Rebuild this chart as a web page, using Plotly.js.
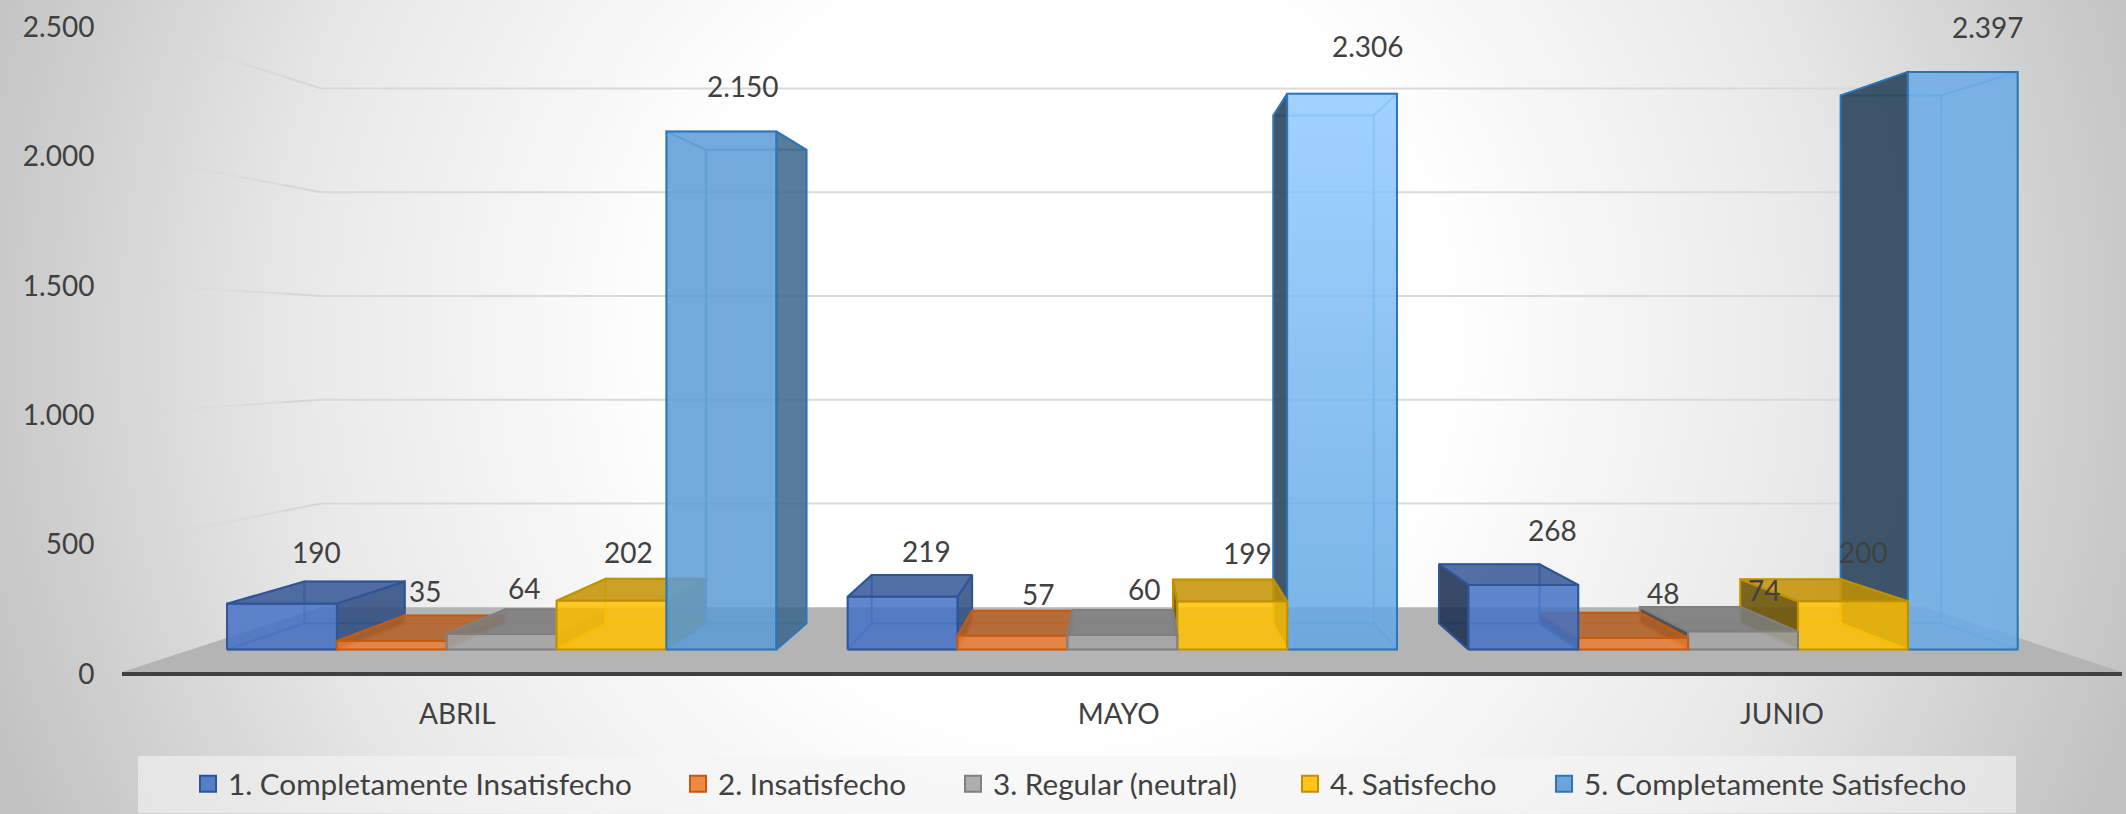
<!DOCTYPE html>
<html>
<head>
<meta charset="utf-8">
<script src="https://cdn.plot.ly/plotly-3.0.1.min.js"></script>
<style>
html,body{margin:0;padding:0;width:2126px;height:814px;overflow:hidden;
background:radial-gradient(ellipse 1130px 1150px at 1060px 340px,#ffffff 0%,#ffffff 34%,#e8e8e8 68%,#c2c2c2 100%);}
#chart{width:2126px;height:814px;}
</style>
</head>
<body>
<div id="chart"></div>
<script>
// ---- data ----
const categories = ["ABRIL", "MAYO", "JUNIO"];
const seriesNames = ["1. Completamente Insatisfecho", "2. Insatisfecho", "3. Regular (neutral)", "4. Satisfecho", "5. Completamente Satisfecho"];
const s1Values = [190, 219, 268];
const s2Values = [35, 57, 48];
const s3Values = [64, 60, 74];
const s4Values = [202, 199, 200];
const s5Values = [2150, 2306, 2397];
const yTickVals = [0, 500, 1000, 1500, 2000, 2500];
const yTickText = ["0", "500", "1.000", "1.500", "2.000", "2.500"];

// ---- styling ----
const seriesValues = [s1Values, s2Values, s3Values, s4Values, s5Values];
const baseRgb = [[68,114,196],[237,125,49],[165,165,165],[255,192,0],[91,155,213]];
const edgeRgb = [[47,85,151],[197,90,17],[127,127,127],[191,144,0],[46,117,182]];
const labelShiftX = [[-38,-30,-31,-27.5,-13],[5,16,21,24.5,44],[63,73,74,73,97.5]];
const labelShiftY = [[29,25,21,26.5,63.6],[24,17,21,26,69],[34,20,17,27,68]];
const categoryTickPos = [0.503, 1.495, 2.49];
const FONT = "Lato, Carlito, sans-serif";
const TEXT = "#404040";

// ---- projection, in axis units ----
const VX = 1.5075, VV = 1262.8;       // vanishing point
const S_FRONT = 0.931, S_BACK = 0.851, S_WALL = 0.802;
const CLUSTER = 0.885, BAR = CLUSTER / 5;
const proj = (x, v, s) => [VX + (x - VX) * s, VV + (v - VV) * s];
const rgba = (c, f, a) => `rgba(${c.map(k => Math.round(k * f)).join(",")},${a})`;

const traces = [];
function poly(points, fill, line, width, extra) {
  const pts = points.concat([points[0]]);
  traces.push(Object.assign({
    type: "scatter", mode: "lines", x: pts.map(p => p[0]), y: pts.map(p => p[1]),
    fill: fill ? "toself" : "none", fillcolor: fill || "rgba(0,0,0,0)",
    line: {color: line || "rgba(0,0,0,0)", width: width || 0},
    hoverinfo: "skip", showlegend: false
  }, extra || {}));
}
function polyline(points, color, width) {
  traces.push({type: "scatter", mode: "lines", x: points.map(p => p[0]), y: points.map(p => p[1]),
    line: {color, width}, hoverinfo: "skip", showlegend: false});
}

// floor
poly([proj(0,0,1), proj(3,0,1), proj(3,0,S_WALL), proj(0,0,S_WALL)], "#b4b4b4");

// gridlines: back wall plus a left wall that fades out towards the viewer
yTickVals.slice(1).forEach(v => {
  polyline([proj(0,v,S_WALL), proj(3,v,S_WALL)], "#d9d9d9", 2);
  const steps = [[S_WALL,0.84,0.9],[0.84,0.88,0.55],[0.88,0.93,0.3],[0.93,1,0.1]];
  steps.forEach(([a,b,o]) => polyline([proj(0,v,a), proj(0,v,b)], `rgba(212,212,212,${o})`, 2));
});

// bars, farthest from the vanishing line first
const bars = [];
categories.forEach((c, ci) => seriesNames.forEach((n, si) => {
  const x0 = ci + (1 - CLUSTER) / 2 + si * BAR, x1 = x0 + BAR;
  bars.push({ci, si, x0, x1, v: seriesValues[si][ci], d: Math.abs((x0 + x1) / 2 - VX)});
}));
bars.sort((a, b) => b.d - a.d);

bars.forEach(b => {
  const {x0, x1, v, si, ci} = b, base = baseRgb[si], edge = edgeRgb[si];
  const faint = rgba(base, 1, 0.55), hard = rgba(edge, 1, 1);
  const F = S_FRONT, B = S_BACK;
  const leftVis = x0 > VX, rightVis = x1 < VX, topVis = v < VV;
  const back = [proj(x0,0,B), proj(x1,0,B), proj(x1,v,B), proj(x0,v,B)];
  const bottom = [proj(x0,0,F), proj(x1,0,F), proj(x1,0,B), proj(x0,0,B)];
  const left = [proj(x0,0,F), proj(x0,0,B), proj(x0,v,B), proj(x0,v,F)];
  const right = [proj(x1,0,F), proj(x1,0,B), proj(x1,v,B), proj(x1,v,F)];
  const top = [proj(x0,v,F), proj(x1,v,F), proj(x1,v,B), proj(x0,v,B)];
  const front = [proj(x0,0,F), proj(x1,0,F), proj(x1,v,F), proj(x0,v,F)];

  poly(back, null, faint, 2);
  poly(bottom, null, faint, 2);
  if (!leftVis) poly(left, null, faint, 2);
  if (!rightVis) poly(right, null, faint, 2);
  if (!topVis) poly(top, null, faint, 2);
  if (leftVis) poly(left, rgba(base, 0.42, 0.88), hard, 2);
  if (rightVis) poly(right, rgba(base, 0.65, 0.85), hard, 2);
  if (topVis) poly(top, rgba(base, 0.76, 0.85), hard, 2);
  let extra = {};
  if (ci === 1 && si === 4) extra = {fillgradient: {type: "vertical",
    colorscale: [[0, "rgba(98,166,227,0.85)"], [1, "rgba(143,202,255,0.85)"]]}};
  const frontFill = (ci === 2 && si === 4) ? "rgba(106,170,231,0.85)" : rgba(base, 1, 0.85);
  poly(front, frontFill, hard, 2, extra);
});

// legend entries, one legend per series so each sits where the reference has it
const legendLeft = [188, 678, 953, 1290, 1544];
const legends = {};
seriesNames.forEach((n, i) => {
  const key = i === 0 ? "legend" : "legend" + (i + 1);
  traces.push({type: "scatter", mode: "markers", x: [null], y: [null], name: n, legend: key,
    marker: {symbol: "square", size: 16, color: rgba(baseRgb[i], 1, 0.9), line: {color: rgba(edgeRgb[i],1,1), width: 2}},
    showlegend: true, hoverinfo: "skip"});
  legends[key] = {xref: "container", yref: "container", x: legendLeft[i] / 2126, y: 30 / 814,
    xanchor: "left", yanchor: "middle", orientation: "h", bgcolor: "rgba(0,0,0,0)", borderwidth: 0,
    font: {family: FONT, size: 29.7, color: TEXT}, itemwidth: 30};
});

// value labels
const fmt = v => String(v).replace(/\B(?=(\d{3})+$)/g, ".");
const annotations = [];
categories.forEach((c, ci) => seriesNames.forEach((n, si) => {
  const x = ci + (1 - CLUSTER) / 2 + (si + 0.5) * BAR, v = seriesValues[si][ci];
  const p = proj(x, v, S_BACK);
  annotations.push({x: p[0], y: p[1], xref: "x", yref: "y", text: fmt(v), showarrow: false,
    xanchor: "center", yanchor: "middle", xshift: labelShiftX[ci][si], yshift: labelShiftY[ci][si],
    font: {family: FONT, size: 28, color: TEXT}});
}));

const layout = Object.assign({
  width: 2126, height: 814, showlegend: true,
  margin: {l: 122, r: 4, t: 25, b: 142},
  paper_bgcolor: "rgba(0,0,0,0)", plot_bgcolor: "rgba(0,0,0,0)",
  font: {family: FONT, size: 28, color: TEXT},
  xaxis: {range: [0, 3], tickmode: "array", tickvals: categoryTickPos, ticktext: categories,
    showgrid: false, zeroline: false, showline: true, linecolor: "#404040", linewidth: 4,
    ticks: "outside", ticklen: 14, tickcolor: "rgba(0,0,0,0)", tickfont: {family: FONT, size: 28, color: TEXT}},
  yaxis: {range: [0, 2500], tickmode: "array", tickvals: yTickVals, ticktext: yTickText,
    showgrid: false, zeroline: false, showline: false, ticklabelshift: 2,
    ticks: "outside", ticklen: 21, tickcolor: "rgba(0,0,0,0)", tickfont: {family: FONT, size: 28, color: TEXT}},
  shapes: [{type: "rect", layer: "below", xref: "paper", yref: "paper", x0: 0.008, x1: 0.947, y0: -0.218, y1: -0.13,
    fillcolor: "rgba(245,245,245,0.6)", line: {width: 0}}],
  annotations
}, legends);

Plotly.newPlot("chart", traces, layout, {displayModeBar: false, staticPlot: true});
</script>
</body>
</html>
